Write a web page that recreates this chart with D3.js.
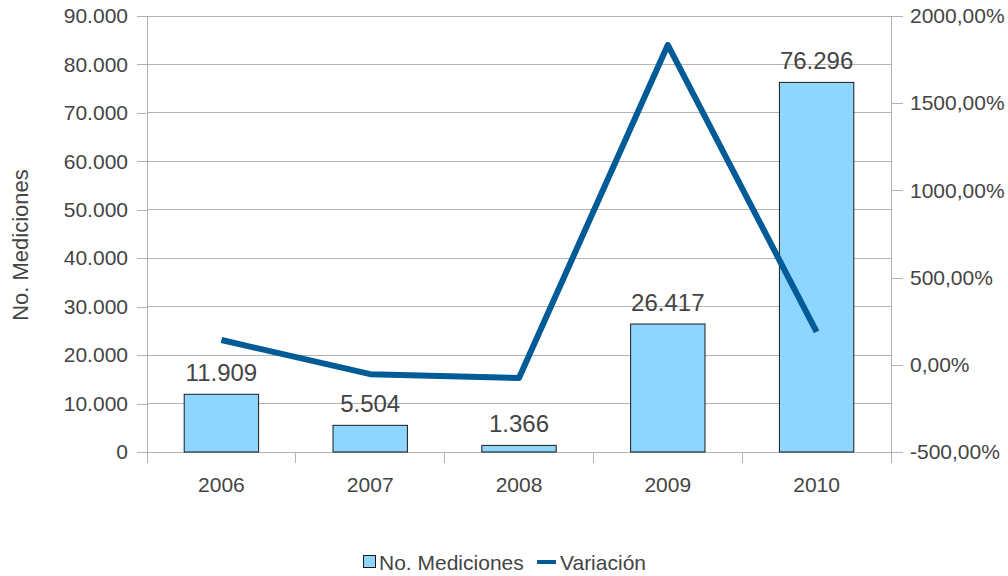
<!DOCTYPE html>
<html><head><meta charset="utf-8">
<script src="https://cdn.jsdelivr.net/npm/d3@7"></script>
<style>body{margin:0;background:#fff}svg{display:block;font-family:"Liberation Sans",Arial,sans-serif}</style>
</head><body><svg id="c" width="1008" height="576"></svg>
<script>
const years = ["2006","2007","2008","2009","2010"];
const mediciones = [11909, 5504, 1366, 26417, 76296];
const variacion = [142, -53.78, -75.18, 1833.89, 188.82];
const leftTicks = [0,10000,20000,30000,40000,50000,60000,70000,80000,90000];
const rightTicks = [-500,0,500,1000,1500,2000];

const svg = d3.select("#c");
const L=147, R=891, T=16, B=452;
const textCol="#444";
const lineCol="#005b96";
const x = d3.scaleBand().domain(years).range([L,R]).paddingInner(0).paddingOuter(0);
const yL = d3.scaleLinear().domain([0,90000]).range([B,T]);
const yR = d3.scaleLinear().domain([-500,2000]).range([B,T]);
const fmtN = v => d3.format(",")(v).replace(/,/g,".");
const fmtP = v => d3.format(".2f")(v).replace(".",",").replace("−","-")+"%";

// gridlines
svg.append("g").selectAll("line").data(leftTicks).join("line")
  .attr("x1",L).attr("x2",R).attr("y1",d=>yL(d)).attr("y2",d=>yL(d))
  .attr("stroke","#b3b3b3").attr("stroke-width",1).attr("shape-rendering","crispEdges");

// left axis
const gl = svg.append("g").attr("transform",`translate(${L},0)`)
  .call(d3.axisLeft(yL).tickValues(leftTicks).tickFormat(fmtN).tickSize(10).tickPadding(9));
// right axis
const gr = svg.append("g").attr("transform",`translate(${R},0)`)
  .call(d3.axisRight(yR).tickValues(rightTicks).tickFormat(fmtP).tickSize(12).tickPadding(7));
// bottom axis
const gb = svg.append("g").attr("transform",`translate(0,${B})`)
  .call(d3.axisBottom(x).tickSize(0).tickPadding(25));
// category separators ticks
svg.append("g").selectAll("line").data(d3.range(years.length+1)).join("line")
  .attr("x1",i=>L+i*x.bandwidth()).attr("x2",i=>L+i*x.bandwidth())
  .attr("y1",B).attr("y2",B+11).attr("stroke","#b3b3b3").attr("shape-rendering","crispEdges");

[gl,gr,gb].forEach(g=>{
  g.selectAll(".domain").attr("stroke","#b3b3b3").attr("shape-rendering","crispEdges");
  g.selectAll(".tick line").attr("stroke","#b3b3b3").attr("shape-rendering","crispEdges");
  g.selectAll("text").attr("fill",textCol).style("font-size","21px").style("font-family","'Liberation Sans',Arial,sans-serif");
});
gb.select(".domain").remove();
svg.append("line").attr("x1",L).attr("x2",R).attr("y1",B).attr("y2",B).attr("stroke","#b3b3b3").attr("shape-rendering","crispEdges");

// bars
const bw = x.bandwidth()*0.5;
svg.append("g").selectAll("rect").data(mediciones).join("rect")
  .attr("x",(d,i)=>x(years[i])+(x.bandwidth()-bw)/2)
  .attr("y",d=>yL(d)).attr("width",bw).attr("height",d=>B-yL(d))
  .attr("fill","#8ed5ff").attr("stroke","#1a1a1a").attr("stroke-width",1);

// data labels
svg.append("g").selectAll("text").data(mediciones).join("text")
  .attr("x",(d,i)=>x(years[i])+x.bandwidth()/2).attr("y",d=>yL(d)-13)
  .attr("text-anchor","middle").attr("fill",textCol).style("font-size","24px")
  .text(fmtN);

// line
svg.append("path").datum(variacion)
  .attr("d",d3.line().x((d,i)=>x(years[i])+x.bandwidth()/2).y(d=>yR(d)))
  .attr("fill","none").attr("stroke",lineCol).attr("stroke-width",6).attr("stroke-linejoin","round");

// y title
svg.append("text").attr("transform","translate(28,245) rotate(-90)")
  .attr("text-anchor","middle").attr("fill",textCol).style("font-size","22px").text("No. Mediciones");

// legend
const lg = svg.append("g");
lg.append("rect").attr("x",363.5).attr("y",555.5).attr("width",12).attr("height",12)
  .attr("fill","#8ed5ff").attr("stroke","#1a1a1a");
lg.append("text").attr("x",379).attr("y",570).attr("fill",textCol).style("font-size","21px").text("No. Mediciones");
lg.append("line").attr("x1",537).attr("x2",556).attr("y1",562).attr("y2",562).attr("stroke",lineCol).attr("stroke-width",4);
lg.append("text").attr("x",560).attr("y",570).attr("fill",textCol).style("font-size","21px").text("Variación");
</script></body></html>
